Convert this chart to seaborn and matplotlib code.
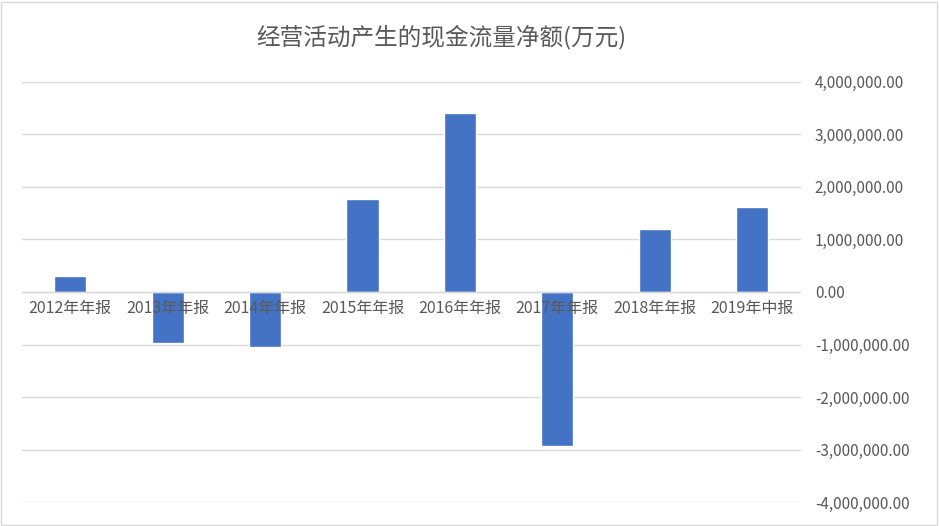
import matplotlib
matplotlib.use("Agg")
import matplotlib.pyplot as plt
import seaborn as sns
import pandas as pd
from matplotlib.ticker import FuncFormatter

sns.set_theme(style="white")
plt.rcParams['font.family'] = ['Noto Sans CJK SC', 'DejaVu Sans']

categories = ["2012年年报", "2013年年报", "2014年年报", "2015年年报", "2016年年报", "2017年年报", "2018年年报", "2019年中报"]
values = [300000, -970000, -1050000, 1770000, 3410000, -2930000, 1200000, 1620000]

df = pd.DataFrame({"cat": categories, "val": values})
fig = plt.figure(figsize=(9.39, 5.26), dpi=100)
ax = fig.add_axes([0.023, 0.045, 0.83, 0.8])
sns.barplot(data=df, x="cat", y="val", color="#4472C4", width=0.33, saturation=1, ax=ax)
ax.set_ylim(-4000000, 4000000)
ax.set_yticks(range(-4000000, 4000001, 1000000))
ax.yaxis.tick_right()
ax.yaxis.set_major_formatter(FuncFormatter(lambda v, p: f"{v:,.2f}"))
ax.tick_params(axis='y', labelsize=11, colors="#595959", length=0, pad=10)
ax.grid(axis='y', color="#D9D9D9", linewidth=1)
ax.set_axisbelow(True)
for s in ax.spines.values():
    s.set_visible(False)
ax.axhline(0, color="#D9D9D9", linewidth=1)
ax.set_xlabel(""); ax.set_ylabel("")
ax.set_xticks(range(len(categories)))
ax.set_xticklabels([])
for i, c in enumerate(categories):
    ax.text(i, -150000, c, ha="center", va="top", fontsize=11.5, color="#595959")
ax.set_xlim(-0.5, len(categories) - 0.5)
fig.text(0.47, 0.93, "经营活动产生的现金流量净额(万元)", ha="center", va="center", fontsize=17, color="#595959")
fig.patches.append(plt.Rectangle((0.001, 0.002), 0.997, 0.995, transform=fig.transFigure, fill=False, edgecolor="#D9D9D9", linewidth=1))
fig.savefig("out.png", dpi=100)
